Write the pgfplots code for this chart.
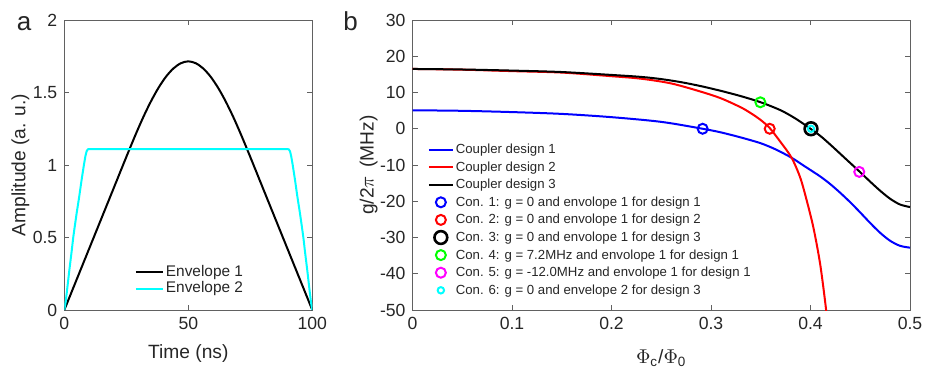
\documentclass[border=0pt]{standalone}
\usepackage{fontspec}
\setmainfont{Liberation Sans}
\usepackage{pgfplots}
\pgfplotsset{compat=1.18}
\definecolor{axgray}{gray}{0.38}
\definecolor{txt}{gray}{0.15}
\definecolor{mblue}{rgb}{0,0,1}
\definecolor{mred}{rgb}{1,0,0}
\definecolor{mgreen}{rgb}{0,1,0}
\definecolor{mmag}{rgb}{1,0,1}
\definecolor{mcyan}{rgb}{0,1,1}
\begin{document}
\begin{tikzpicture}
\path[use as bounding box] (0,0) rectangle (462.5pt,188.5pt);
\pgfplotsset{
  every axis/.append style={
    scale only axis, height=145pt,
    axis line style={axgray, line width=0.5pt},
    every tick/.style={axgray, line width=0.5pt},
    tick align=inside,
    major tick length=2.5pt,
    tick label style={font=\fontsize{8.8}{10}\selectfont, text=txt},
    label style={font=\fontsize{9.6}{11}\selectfont, text=txt},
    /pgf/number format/assume math mode=true,
    legend cell align=left,
  }
}
% ---------------- panel a ----------------
\begin{axis}[at={(32.15pt,33.5pt)}, anchor=south west, width=124pt,
  xmin=0, xmax=100, ymin=0, ymax=2,
  xtick={0,50,100}, ytick={0,0.5,1,1.5,2},
  xlabel={Time (ns)}, ylabel={Amplitude (a. u.)},
  xlabel style={at={(axis description cs:0.5,-0.15)}, anchor=center},
  ylabel style={at={(axis description cs:-0.177,0.5)}, anchor=center},
  legend image code/.code={\draw[#1] (0pt,0pt) -- (13.5pt,0pt);},
  legend style={at={(rel axis cs:0.259,0.175)}, anchor=north west, draw=none, fill=none,
    font=\fontsize{7.7}{9}\selectfont, text=txt, row sep=0pt,
    nodes={inner ysep=0.6pt, inner xsep=1pt, text height=5.6pt, text depth=1.6pt}},
]
\addplot[black, line width=1pt, smooth] coordinates {
(0,0)(5,0.211)(10,0.422)(15,0.633)(20,0.844)(23,0.971)(26,1.097)(29,1.220)(32,1.336)(35,1.441)(38,1.533)(41,1.609)(44,1.666)(47,1.702)(50,1.715)
(53,1.702)(56,1.666)(59,1.609)(62,1.533)(65,1.441)(68,1.336)(71,1.220)(74,1.097)(77,0.971)(80,0.844)(85,0.633)(90,0.422)(95,0.211)(100,0)};
\addlegendentry{Envelope 1}
\addplot[mcyan, line width=1pt] coordinates {
(0,0)(0.5,0.05)(1,0.12)(2,0.27)(3,0.41)(3.6,0.5)(4,0.55)(5,0.67)(6,0.78)(7,0.90)(7.9,1.0)(8.5,1.06)(9,1.095)(9.5,1.108)(10,1.11)
(90,1.11)(90.5,1.108)(91,1.095)(91.5,1.06)(92.1,1.0)(93,0.90)(94,0.78)(95,0.67)(96,0.55)(96.4,0.5)(97,0.41)(98,0.27)(99,0.12)(99.5,0.05)(100,0)};
\addlegendentry{Envelope 2}
\end{axis}
\node[anchor=base west, inner sep=0pt, font=\fontsize{13}{15}\selectfont, text=txt] at (8.3pt,173.5pt) {a};
\node[anchor=base west, inner sep=0pt, font=\fontsize{13}{15}\selectfont, text=txt] at (171.5pt,173.5pt) {b};
% ---------------- panel b ----------------
\begin{axis}[at={(206.25pt,33.5pt)}, anchor=south west, width=248.75pt,
  xmin=0, xmax=0.5, ymin=-50, ymax=30,
  xtick={0,0.1,0.2,0.3,0.4,0.5}, ytick={-50,-40,-30,-20,-10,0,10,20,30},
  xticklabels={0,0.1,0.2,0.3,0.4,0.5},
  yticklabels={-50,-40,-30,-20,-10,0,10,20,30},
  xlabel={$\Phi$\textsubscript{c}/$\Phi$\textsubscript{0}}, ylabel={g/2$\pi$ \,(MHz)},
  xlabel style={at={(axis description cs:0.5,-0.165)}, anchor=center},
  ylabel style={at={(axis description cs:-0.088,0.5)}, anchor=center},
  legend image code/.code={\draw[mark repeat=2,mark phase=2,#1] plot coordinates {(0pt,0pt) (6pt,0pt) (12pt,0pt)};},
  legend style={at={(rel axis cs:0.018,0.599)}, anchor=north west, draw=none, fill=none,
    font=\fontsize{6.6}{8}\selectfont, text=txt, row sep=0pt,
    nodes={inner ysep=0.6pt, inner xsep=1pt, text height=5.8pt, text depth=1.8pt}},
]
\addplot[mblue, line width=1pt, smooth] coordinates {
(0,5.1)(0.05,4.95)(0.1,4.6)(0.15,4.1)(0.2,3.2)(0.25,1.9)(0.2916,0)(0.31,-1.0)(0.33,-2.4)(0.35,-4.0)(0.365,-5.7)(0.381,-8.0)(0.395,-10.5)(0.41,-13.2)(0.42,-15.3)(0.43,-17.7)(0.44,-20.3)(0.45,-23.1)(0.46,-26.0)(0.47,-28.7)(0.48,-30.9)(0.49,-32.3)(0.5,-32.8)};
\addlegendentry{Coupler design 1}
\addplot[mred, line width=1pt, smooth] coordinates {
(0,16.5)(0.05,16.3)(0.1,15.9)(0.15,15.5)(0.2,14.5)(0.23,13.8)(0.26,12.5)(0.289,10.3)(0.31,8.4)(0.33,5.9)(0.34,4.3)(0.35,2.4)(0.359,0.2)(0.37,-3.7)(0.381,-8.0)(0.3897,-13.5)(0.3964,-20.0)(0.4031,-27.5)(0.4098,-37.5)(0.4157,-50)(0.418,-57)};
\addlegendentry{Coupler design 2}
\addplot[black, line width=1pt, smooth] coordinates {
(0,16.5)(0.05,16.35)(0.1,16.05)(0.15,15.65)(0.2,14.85)(0.23,14.3)(0.25,13.7)(0.27,12.85)(0.29,11.75)(0.31,10.45)(0.33,9.0)(0.35,7.3)(0.37,5.1)(0.385,2.8)(0.4,0)(0.41,-2.0)(0.42,-4.4)(0.435,-8.2)(0.45,-12.0)(0.46,-14.6)(0.47,-17.1)(0.48,-19.3)(0.49,-20.9)(0.5,-21.6)};
\addlegendentry{Coupler design 3}
\addplot[mblue, only marks, mark=o, mark size=2.5pt, mark options={line width=1pt}] coordinates {(0.2916,0)};
\addlegendentry{Con. 1: g = 0 and envolope 1 for design 1}
\addplot[mred, only marks, mark=o, mark size=2.5pt, mark options={line width=1pt}] coordinates {(0.359,0)};
\addlegendentry{Con. 2: g = 0 and envolope 1 for design 2}
\addplot[black, only marks, mark=o, mark size=3.2pt, mark options={line width=1.3pt}] coordinates {(0.4005,0)};
\addlegendentry{Con. 3: g = 0 and envolope 1 for design 3}
\addplot[mgreen, only marks, mark=o, mark size=2.5pt, mark options={line width=1pt}] coordinates {(0.3496,7.3)};
\addlegendentry{Con. 4: g = 7.2MHz and envolope 1 for design 1}
\addplot[mmag, only marks, mark=o, mark size=2.5pt, mark options={line width=1pt}] coordinates {(0.449,-11.9)};
\addlegendentry{Con. 5: g = -12.0MHz and envolope 1 for design 1}
\addplot[mcyan, only marks, mark=o, mark size=1.6pt, mark options={line width=1pt}] coordinates {(0.4005,0)};
\addlegendentry{Con. 6: g = 0 and envelope 2 for design 3}
\end{axis}
\end{tikzpicture}
\end{document}
